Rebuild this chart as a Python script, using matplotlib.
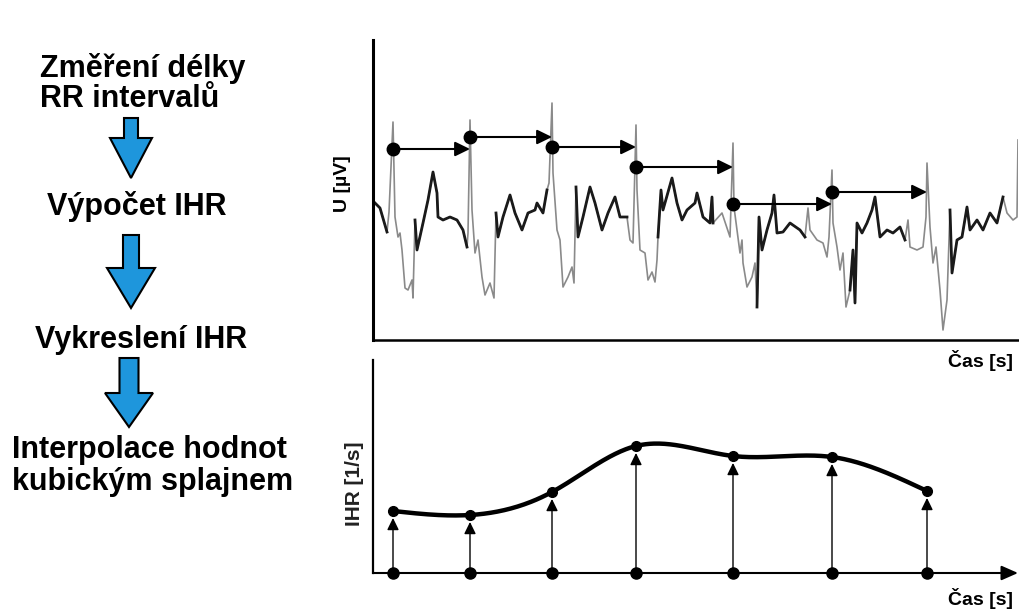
import numpy as np
import matplotlib
matplotlib.use('Agg')
import matplotlib.pyplot as plt
from matplotlib.patches import Polygon

plt.rcParams['font.family'] = ['Liberation Sans', 'DejaVu Sans']

# times of the R peaks [s]
r_peak_t = [0.20, 0.97, 1.79, 2.63, 3.60, 4.59, 5.54, 6.45]

# ECG trace (time [s], U [uV])
ecg_t = [0.00, 0.07, 0.14, 0.16, 0.20, 0.22, 0.25, 0.27, 0.29, 0.32, 0.35, 0.39,
         0.40, 0.42, 0.44, 0.50, 0.55, 0.60, 0.64, 0.65, 0.70, 0.77, 0.84, 0.90,
         0.94, 0.95, 0.97, 0.99, 1.02, 1.05, 1.09, 1.12, 1.17, 1.21, 1.23, 1.25,
         1.30, 1.37, 1.42, 1.49, 1.55, 1.62, 1.64, 1.70, 1.74, 1.76, 1.79, 1.80,
         1.84, 1.87, 1.90, 1.95, 1.99, 2.01, 2.03, 2.05, 2.10, 2.17, 2.22, 2.29,
         2.35, 2.42, 2.47, 2.54, 2.57, 2.60, 2.63, 2.64, 2.67, 2.72, 2.75, 2.79,
         2.82, 2.84, 2.85, 2.88, 2.90, 2.99, 3.04, 3.09, 3.14, 3.22, 3.24, 3.30,
         3.37, 3.39, 3.40, 3.49, 3.57, 3.60, 3.61, 3.64, 3.67, 3.69, 3.70, 3.74,
         3.79, 3.82, 3.84, 3.86, 3.89, 3.94, 3.99, 4.01, 4.04, 4.10, 4.17, 4.27,
         4.32, 4.35, 4.37, 4.44, 4.50, 4.54, 4.56, 4.59, 4.60, 4.64, 4.67, 4.70,
         4.73, 4.77, 4.80, 4.82, 4.84, 4.89, 4.94, 4.99, 5.02, 5.07, 5.14, 5.20,
         5.27, 5.32, 5.35, 5.37, 5.44, 5.50, 5.53, 5.54, 5.57, 5.60, 5.63, 5.67,
         5.70, 5.74, 5.77, 5.79, 5.84, 5.89, 5.94, 5.97, 6.04, 6.10, 6.17, 6.24,
         6.30, 6.34, 6.40, 6.44, 6.45]
ecg_u = [140, 70, -170, 30, 930, -20, -220, -180, -350, -730, -750, -650,
         -830, -50, -350, -80, 150, 430, 220, -20, -50, -20, -50, -150,
         -320, -180, 950, 50, -380, -250, -620, -800, -680, -830, 20, -220,
         -20, 200, 20, -150, 20, 50, 120, 20, 250, 320, 1120, 420,
         -150, -250, -720, -620, -520, -680, 280, -220, -20, 280, 120, -150,
         20, 180, -20, -20, -250, -280, 900, 250, -350, -380, -650, -570,
         -670, -450, -220, 250, 50, 370, 120, -50, 50, 120, 220, -20,
         -80, 180, -80, 20, -220, 720, 80, -150, -380, -250, -480, -720,
         -620, -480, -920, -20, -350, -150, 20, 200, -180, -170, -80, -150,
         -220, 70, -150, -250, -280, -420, -220, 450, -80, -320, -550, -380,
         -920, -750, -350, -880, -80, -180, -80, 50, 180, -220, -150, -180,
         -120, -250, -50, -320, -350, -320, -20, 520, -120, -480, -320, -750,
         -1150, -850, 50, -580, -250, -220, 80, -150, -50, -150, 20, -80,
         180, 20, -50, -20, 750]

# parts of the trace covered by noise (drawn dark)
noisy_spans = [(0.00, 0.14), (0.42, 0.94), (1.23, 1.74), (2.03, 2.55),
               (2.85, 3.40), (3.84, 4.34), (4.77, 5.34), (5.77, 6.30)]

# level of the RR markers [uV]
rr_marker_u = [660, 780, 680, 480, 110, 230]

# instantaneous heart rate [1/s]
ihr = [0.62, 0.58, 0.81, 1.27, 1.17, 1.16, 0.82]

steps = [('Změření délky', 40, 77), ('RR intervalů', 40, 107),
         ('Výpočet IHR', 47, 215), ('Vykreslení IHR', 35, 348),
         ('Interpolace hodnot', 12, 458), ('kubickým splajnem', 12, 490)]


def natural_spline(x, y, xs):
    x = np.asarray(x, float)
    y = np.asarray(y, float)
    n = len(x)
    h = np.diff(x)
    A = np.zeros((n, n))
    b = np.zeros(n)
    A[0, 0] = A[-1, -1] = 1
    for i in range(1, n - 1):
        A[i, i - 1] = h[i - 1]
        A[i, i] = 2 * (h[i - 1] + h[i])
        A[i, i + 1] = h[i]
        b[i] = 3 * ((y[i + 1] - y[i]) / h[i] - (y[i] - y[i - 1]) / h[i - 1])
    c = np.linalg.solve(A, b)
    k = np.clip(np.searchsorted(x, xs) - 1, 0, n - 2)
    dx = xs - x[k]
    bb = (y[k + 1] - y[k]) / h[k] - h[k] * (2 * c[k] + c[k + 1]) / 3
    d = (c[k + 1] - c[k]) / (3 * h[k])
    return y[k] + bb * dx + c[k] * dx ** 2 + d * dx ** 3


W, H = 1020, 610


def box(l, t, r, b):
    return [l / W, 1 - b / H, (r - l) / W, (b - t) / H]


fig = plt.figure(figsize=(10.2, 6.1), dpi=100)

# ---- ECG with RR intervals
ax = fig.add_axes(box(373, 40, 1018, 340))
ax.patch.set_visible(False)
t = np.array(ecg_t)
u = np.array(ecg_u)
ax.plot(t, u, color='#8a8a8a', lw=1.2)
for a, b in noisy_spans:
    m = (t >= a) & (t <= b)
    ax.plot(t[m], u[m], color='#1a1a1a', lw=2.0)
for i in range(len(rr_marker_u)):
    ax.annotate('', xy=(r_peak_t[i + 1], rr_marker_u[i]),
                xytext=(r_peak_t[i], rr_marker_u[i]),
                arrowprops=dict(arrowstyle='-|>,head_length=0.45,head_width=0.22',
                                color='black', lw=1.5, shrinkA=0, shrinkB=0,
                                mutation_scale=20))
ax.plot(r_peak_t[:len(rr_marker_u)], rr_marker_u, 'o', color='black', ms=9, zorder=5)
ax.set_xlim(0, 6.45)
ax.set_ylim(-1250, 1750)
ax.set_xticks([])
ax.set_yticks([])
ax.spines['right'].set_visible(False)
ax.spines['top'].set_visible(False)
ax.spines['left'].set_linewidth(2.2)
ax.spines['bottom'].set_linewidth(1.8)
ax.set_ylabel('U [µV]', fontsize=14, fontweight='bold', va='center')
ax.yaxis.set_label_coords(-0.048, 0.52)
ax.set_xlabel('Čas [s]', fontsize=14, fontweight='bold', ha='right', va='center')
ax.xaxis.set_label_coords(0.992, -0.07)

# ---- IHR with cubic spline
ax2 = fig.add_axes(box(373, 360, 1018, 573))
ax2.patch.set_visible(False)
tb = r_peak_t[:len(ihr)]
xs = np.linspace(tb[0], tb[-1], 400)
ax2.plot(xs, natural_spline(tb, ihr, xs), color='black', lw=3.2)
for ti, vi in zip(tb, ihr):
    ax2.annotate('', xy=(ti, vi), xytext=(ti, 0),
                 arrowprops=dict(arrowstyle='-|>,head_length=0.45,head_width=0.22',
                                 color='black', lw=1.0, shrinkA=0, shrinkB=5,
                                 mutation_scale=16))
ax2.plot(tb, ihr, 'o', color='black', ms=7, zorder=5)
ax2.plot(tb, [0] * len(tb), 'o', color='black', ms=8, zorder=5, clip_on=False)
ax2.annotate('', xy=(1, 0), xytext=(0, 0), xycoords='axes fraction',
             arrowprops=dict(arrowstyle='-|>,head_length=0.5,head_width=0.22',
                             color='black', lw=1.5, shrinkA=0, shrinkB=0,
                             mutation_scale=20))
ax2.set_xlim(0, 6.45)
ax2.set_ylim(0, 2.13)
ax2.set_xticks([])
ax2.set_yticks([])
for s in ['right', 'top', 'bottom']:
    ax2.spines[s].set_visible(False)
ax2.spines['left'].set_linewidth(1.6)
ax2.set_ylabel('IHR [1/s]', fontsize=15, fontweight='bold', color='#222222', va='center')
ax2.yaxis.set_label_coords(-0.028, 0.418)
ax2.set_xlabel('Čas [s]', fontsize=14, fontweight='bold', ha='right', va='center')
ax2.xaxis.set_label_coords(0.992, -0.122)

# ---- processing steps on the left
fl = fig.add_axes([0, 0, 1, 1])
fl.set_xlim(0, W)
fl.set_ylim(H, 0)
fl.axis('off')
for txt, x0, y0 in steps:
    fl.text(x0, y0, txt, fontsize=22, fontweight='bold', ha='left', va='baseline')


def block_arrow(cx, top, neck, tip, shaft_w, head_w):
    pts = [(cx - shaft_w / 2, top), (cx + shaft_w / 2, top), (cx + shaft_w / 2, neck),
           (cx + head_w / 2, neck), (cx, tip), (cx - head_w / 2, neck),
           (cx - shaft_w / 2, neck)]
    fl.add_patch(Polygon(pts, closed=True, facecolor='#1E96DC', edgecolor='black', lw=1.5))


block_arrow(131, 118, 138, 178, 14, 42)
block_arrow(131, 235, 268, 308, 16, 48)
block_arrow(129, 358, 393, 427, 19, 48)

fig.savefig('out.png', dpi=100)
